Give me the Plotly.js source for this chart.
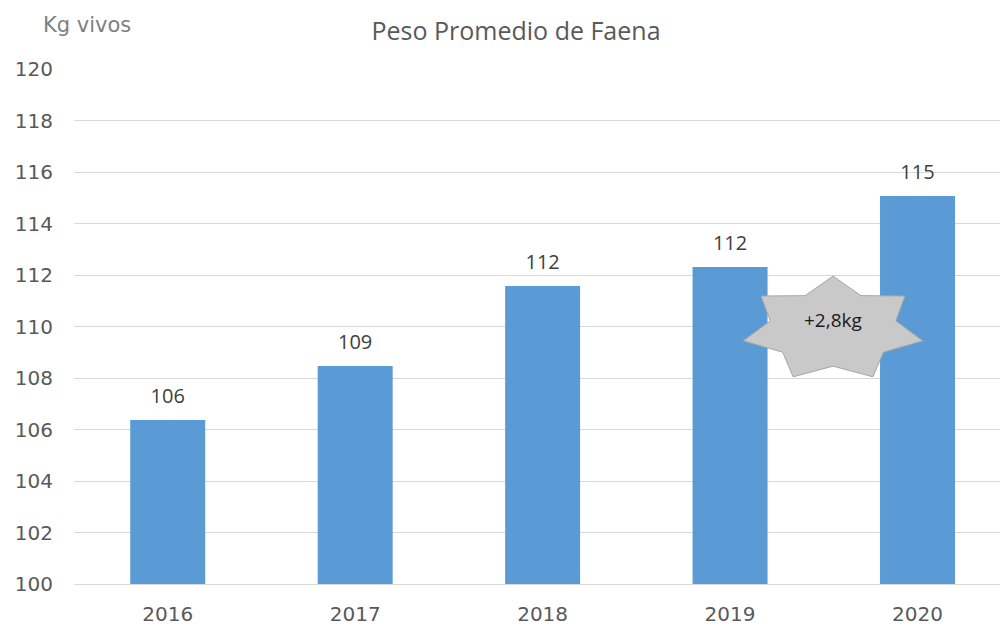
<!DOCTYPE html>
<html>
<head>
<meta charset="utf-8">
<script src="https://cdn.plot.ly/plotly-3.0.1.min.js"></script>
<style>html,body{margin:0;padding:0;background:#fff;}#chart{width:1002px;height:628px;}</style>
</head>
<body>
<div id="chart"></div>
<script>
const years = ['2016', '2017', '2018', '2019', '2020'];
const pesoPromedio = [106.37, 108.47, 111.57, 112.31, 115.07];
const labels = ['106', '109', '112', '112', '115'];
const yTicks = [100, 102, 104, 106, 108, 110, 112, 114, 116, 118, 120];
const starText = '+2,8kg';

const lightFont = '"DejaVu Sans", sans-serif';
const labelFont = 'Open Sans, Lato, sans-serif';

// 7-point star in paper coordinates (decoration)
function starPath(cx, cy, rx, ry, k) {
  let d = '';
  for (let i = 0; i < 14; i++) {
    const a = i * Math.PI / 7;
    const r = (i % 2 === 0) ? 1 : k;
    const x = cx + r * rx * Math.sin(a);
    const y = cy + r * ry * Math.cos(a);
    d += (i === 0 ? 'M' : 'L') + x.toFixed(4) + ',' + y.toFixed(4) + ' ';
  }
  return d + 'Z';
}

const bars = {
  type: 'bar',
  x: years,
  y: pesoPromedio,
  marker: {color: '#5b9bd5'},
  width: 0.4,
  hoverinfo: 'x+y'
};

const valueLabels = {
  type: 'scatter',
  mode: 'markers+text',
  x: years,
  y: pesoPromedio,
  text: labels,
  textposition: 'top center',
  cliponaxis: false,
  marker: {size: 18, opacity: 0, color: '#ffffff'},
  textfont: {family: labelFont, size: 20, color: '#404040'},
  hoverinfo: 'skip'
};

const layout = {
  width: 1002,
  height: 628,
  margin: {l: 74, r: 2, t: 69, b: 44},
  paper_bgcolor: '#ffffff',
  plot_bgcolor: '#ffffff',
  showlegend: false,
  title: {
    text: 'Peso Promedio de Faena',
    font: {family: labelFont, size: 25, color: '#595959'},
    x: 0.515, xanchor: 'center',
    y: 0.95, yanchor: 'middle'
  },
  xaxis: {
    type: 'category',
    range: [-0.5, 4.44],
    showgrid: false,
    showline: true,
    linecolor: '#d9d9d9',
    linewidth: 1,
    zeroline: false,
    ticks: '',
    ticklabelstandoff: 12,
    tickfont: {family: lightFont, size: 20, color: '#595959'}
  },
  yaxis: {
    range: [100, 120],
    tickvals: yTicks,
    ticktext: yTicks.map(String),
    showgrid: true,
    gridcolor: '#d9d9d9',
    gridwidth: 1,
    zeroline: false,
    showline: false,
    ticks: '',
    ticklabelstandoff: 20,
    tickfont: {family: lightFont, size: 20, color: '#595959'}
  },
  shapes: [{
    type: 'path',
    xref: 'paper', yref: 'paper',
    path: starPath(0.8197, 0.495, 0.0994, 0.1029, 0.7),
    fillcolor: '#c9c9c9',
    line: {color: '#a6a6a6', width: 1},
    layer: 'above'
  }],
  annotations: [
    {
      text: 'Kg vivos', xref: 'paper', yref: 'paper',
      x: (87 - 74) / 926, y: (584 - 25) / 515,
      xanchor: 'center', yanchor: 'middle', showarrow: false,
      font: {family: lightFont, size: 21, color: '#7f7f7f'}
    },
    {
      text: starText, xref: 'paper', yref: 'paper',
      x: 0.8197, y: (584 - 320) / 515,
      xanchor: 'center', yanchor: 'middle', showarrow: false,
      font: {family: labelFont, size: 19, color: '#1a1a1a'}
    }
  ]
};

Plotly.newPlot('chart', [bars, valueLabels], layout, {displayModeBar: false, staticPlot: true});
</script>
</body>
</html>
